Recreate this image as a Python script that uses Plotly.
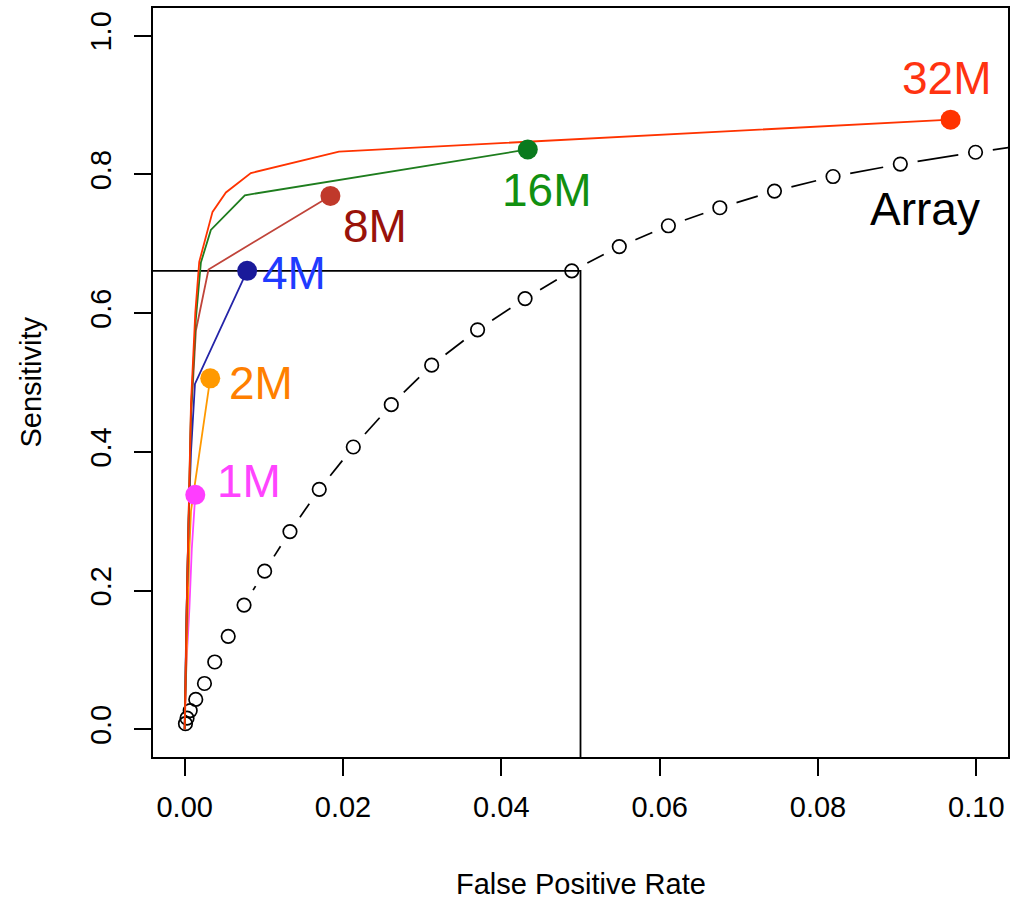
import math
import plotly.graph_objects as go

# ---------------------------------------------------------------- data
# Microarray ROC curve (false positive rate vs sensitivity)
ARRAY_FPR = [0.0001, 0.0003, 0.0007, 0.0014, 0.0025, 0.0038, 0.0055, 0.0075,
             0.0101, 0.0133, 0.0170, 0.0213, 0.0261, 0.0312, 0.0370, 0.0430,
             0.0489, 0.0549, 0.0611, 0.0676, 0.0745, 0.0819, 0.0904, 0.0999,
             0.1110]
ARRAY_SENS = [0.008, 0.016, 0.027, 0.043, 0.066, 0.097, 0.134, 0.179,
              0.228, 0.285, 0.346, 0.407, 0.468, 0.525, 0.576, 0.621,
              0.661, 0.696, 0.726, 0.752, 0.776, 0.797, 0.815, 0.832,
              0.850]

# Sequencing depth ROC curves
FPR_1M = [0.0, 0.0002, 0.0006, 0.0009, 0.00134]
SENS_1M = [0.0, 0.09, 0.175, 0.26, 0.338]

FPR_2M = [0.0, 0.0003, 0.0006, 0.0008, 0.00323]
SENS_2M = [0.0, 0.15, 0.26, 0.315, 0.506]

FPR_4M = [0.0, 0.0002, 0.0005, 0.0008, 0.0013, 0.00789]
SENS_4M = [0.0, 0.15, 0.30, 0.40, 0.498, 0.661]

FPR_8M = [0.0, 0.0003, 0.0008, 0.00142, 0.00301, 0.01841]
SENS_8M = [0.0, 0.20, 0.45, 0.575, 0.663, 0.769]

FPR_16M = [0.0, 0.0003, 0.0008, 0.0014, 0.00205, 0.00331, 0.0076, 0.04334]
SENS_16M = [0.0, 0.20, 0.46, 0.59, 0.673, 0.720, 0.770, 0.836]

FPR_32M = [0.0, 0.0003, 0.0008, 0.00134, 0.00184, 0.00352, 0.00521, 0.00836,
           0.01949, 0.09675]
SENS_32M = [0.0, 0.20, 0.47, 0.60, 0.674, 0.746, 0.774, 0.802,
            0.833, 0.879]

DEPTH_LABELS = ["1M", "2M", "4M", "8M", "16M", "32M"]
X_TICKS = [0.00, 0.02, 0.04, 0.06, 0.08, 0.10]
X_TICK_TEXT = ["0.00", "0.02", "0.04", "0.06", "0.08", "0.10"]
Y_TICKS = [0.0, 0.2, 0.4, 0.6, 0.8, 1.0]
Y_TICK_TEXT = ["0.0", "0.2", "0.4", "0.6", "0.8", "1.0"]

ARRAY_LABEL = "Array"
ARRAY_LABEL_AT = (0.0935, 0.750)
FPR_CUTOFF = 0.05

# ---------------------------------------------------------------- style
W, H = 1013, 899
ML, MR, MT, MB = 153, 3, 8, 142
X_RANGE = [-0.004, 0.104]
Y_RANGE = [-0.04, 1.04]
FONT = "Liberation Sans, Arial, Helvetica, sans-serif"

series = [
    # fpr, sens, line colour, dot colour, label colour, anchor, xshift, yshift
    (FPR_1M, SENS_1M, "#FF44FF", "#FF3DFF", "#FF44FF", "left", "middle", 20, 14),
    (FPR_2M, SENS_2M, "#FF9900", "#FF9900", "#FF7F00", "left", "middle", 17, -5),
    (FPR_4M, SENS_4M, "#2424A8", "#1A1A9A", "#1F3BFF", "left", "middle", 13, -2),
    (FPR_8M, SENS_8M, "#C0443A", "#C0392B", "#99120A", "left", "middle", 11, -30),
    (FPR_16M, SENS_16M, "#1E7D1E", "#0A7A1E", "#119011", "center", "middle", 19, -41),
    (FPR_32M, SENS_32M, "#FF3300", "#FF3300", "#FF3311", "center", "middle", -4, 42),
]

fig = go.Figure()

# cut-off guide: array sensitivity reached by the 4M curve, at FPR 0.05
ref_sens = SENS_4M[-1]
fig.add_trace(go.Scatter(
    x=[X_RANGE[0], FPR_CUTOFF, FPR_CUTOFF],
    y=[ref_sens, ref_sens, Y_RANGE[0]],
    mode="lines", line=dict(color="black", width=1.8),
    hoverinfo="skip", showlegend=False,
))

# array curve: dashes between the points, leaving a gap around each circle
plot_w = W - ML - MR
plot_h = H - MT - MB
sx = plot_w / (X_RANGE[1] - X_RANGE[0])
sy = plot_h / (Y_RANGE[1] - Y_RANGE[0])
GAP = 17.5
dash_x, dash_y = [], []
for i in range(len(ARRAY_FPR) - 1):
    x0, x1 = ARRAY_FPR[i], ARRAY_FPR[i + 1]
    y0, y1 = ARRAY_SENS[i], ARRAY_SENS[i + 1]
    seg = math.hypot((x1 - x0) * sx, (y1 - y0) * sy)
    if seg > 2 * GAP:
        t0 = GAP / seg
        t1 = 1 - t0
        dash_x += [x0 + t0 * (x1 - x0), x0 + t1 * (x1 - x0), None]
        dash_y += [y0 + t0 * (y1 - y0), y0 + t1 * (y1 - y0), None]

fig.add_trace(go.Scatter(
    x=dash_x, y=dash_y, mode="lines",
    line=dict(color="black", width=1.7),
    hoverinfo="skip", showlegend=False,
))
fig.add_trace(go.Scatter(
    x=ARRAY_FPR, y=ARRAY_SENS, mode="markers",
    marker=dict(symbol="circle-open", size=13.5, color="black",
                line=dict(color="black", width=1.7)),
    showlegend=False,
))

# sequencing-depth curves
for fpr, sens, lc, dc, tc, xa, ya, xs, ys in series:
    fig.add_trace(go.Scatter(
        x=fpr, y=sens, mode="lines",
        line=dict(color=lc, width=1.8),
        showlegend=False,
    ))

for (fpr, sens, lc, dc, tc, xa, ya, xs, ys), name in zip(series, DEPTH_LABELS):
    fig.add_trace(go.Scatter(
        x=[fpr[-1]], y=[sens[-1]], mode="markers",
        marker=dict(size=20, color=dc, line=dict(width=0)),
        name=name, showlegend=False,
    ))
    fig.add_annotation(
        x=fpr[-1], y=sens[-1], xref="x", yref="y", text=name,
        showarrow=False, xanchor=xa, yanchor=ya, xshift=xs, yshift=ys,
        font=dict(family=FONT, size=46, color=tc),
    )

fig.add_annotation(
    x=ARRAY_LABEL_AT[0], y=ARRAY_LABEL_AT[1], xref="x", yref="y",
    text=ARRAY_LABEL, showarrow=False, xanchor="center", yanchor="middle",
    font=dict(family=FONT, size=46, color="black"),
)

# axis titles
fig.add_annotation(
    x=0.5, y=0, xref="paper", yref="paper", text="False Positive Rate",
    showarrow=False, xanchor="center", yanchor="middle", yshift=-127,
    font=dict(family=FONT, size=29, color="black"),
)
fig.add_annotation(
    x=0, y=0.5, xref="paper", yref="paper", text="Sensitivity",
    showarrow=False, xanchor="center", yanchor="middle", xshift=-123,
    textangle=-90, font=dict(family=FONT, size=29, color="black"),
)

axis_common = dict(
    showgrid=False, zeroline=False, showline=True, mirror=True,
    linecolor="black", linewidth=2, ticks="outside", ticklen=17,
    tickwidth=1.6, tickcolor="black",
    tickfont=dict(family=FONT, size=29, color="black"),
)
fig.update_xaxes(range=X_RANGE, tickvals=X_TICKS, ticktext=X_TICK_TEXT,
                 ticklabelstandoff=6, **axis_common)
fig.update_yaxes(range=Y_RANGE, tickvals=Y_TICKS, ticktext=Y_TICK_TEXT,
                 tickangle=-90, ticklabelstandoff=11, **axis_common)

fig.update_layout(
    width=W, height=H,
    margin=dict(l=ML, r=MR, t=MT, b=MB),
    paper_bgcolor="white", plot_bgcolor="white",
    showlegend=False,
)

fig.write_html("out.html")
